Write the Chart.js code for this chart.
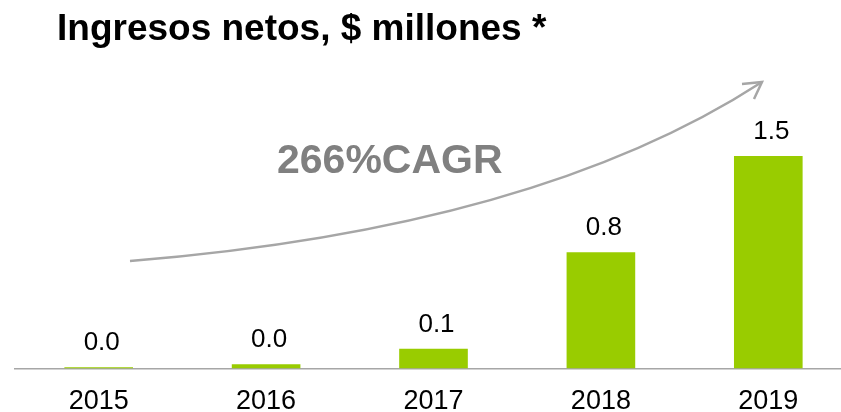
<!DOCTYPE html>
<html>
<head>
<meta charset="utf-8">
<script src="https://cdn.jsdelivr.net/npm/chart.js@4.4.1/dist/chart.umd.min.js"></script>
<style>
  html, body { margin: 0; padding: 0; background: #fff; overflow: hidden; }
</style>
</head>
<body>
<canvas id="myChart" width="860" height="438"></canvas>
<script>
const years = ["2015", "2016", "2017", "2018", "2019"];
const revenue = [0.01, 0.03, 0.14, 0.82, 1.5];
const chartTitle = "Ingresos netos, $ millones *";
const cagrText = "266%CAGR";

// title, value labels and the CAGR arrow
const extras = {
  id: "extras",
  afterDatasetsDraw(chart) {
    const c = chart.ctx;
    c.save();
    c.fillStyle = "#000";
    c.font = "bold 37px 'Liberation Sans', Arial, sans-serif";
    c.textAlign = "left";
    c.textBaseline = "alphabetic";
    c.fillText(chartTitle, 57, 40);

    const meta = chart.getDatasetMeta(0);
    c.font = "26px 'Liberation Sans', Arial, sans-serif";
    c.textAlign = "center";
    meta.data.forEach((bar, i) => {
      c.fillText(revenue[i].toFixed(1), bar.x + 3, bar.y - 17);
    });

    c.strokeStyle = "#a6a6a6";
    c.lineWidth = 2.5;
    c.beginPath();
    c.moveTo(130, 261);
    c.quadraticCurveTo(537, 228, 762, 82);
    c.stroke();
    c.beginPath();
    c.moveTo(742, 84);
    c.lineTo(762, 82);
    c.lineTo(754, 99);
    c.stroke();

    c.fillStyle = "#808080";
    c.font = "bold 41px 'Liberation Sans', Arial, sans-serif";
    c.textAlign = "left";
    c.fillText(cagrText, 277, 173);
    c.restore();
  }
};

let myChart = new Chart(document.getElementById("myChart"), {
  type: "bar",
  data: {
    labels: years,
    datasets: [
      {
        data: revenue,
        backgroundColor: "#99cc00",
        barPercentage: 0.41,
        categoryPercentage: 1,
      },
    ],
  },
  options: {
    responsive: false,
    animation: false,
    layout: { padding: { top: 85, left: 15, right: 8, bottom: 3 } },
    plugins: {
      legend: { display: false },
      tooltip: { enabled: false },
    },
    scales: {
      x: {
        grid: { display: false, drawTicks: false },
        border: { display: true, color: "#a6a6a6", width: 1.5 },
        ticks: {
          color: "#000",
          padding: 17,
          font: { family: "'Liberation Sans', Arial, sans-serif", size: 27 },
        },
      },
      y: {
        display: false,
        min: 0,
        max: 2,
      },
    },
  },
  plugins: [extras],
});
</script>
</body>
</html>
